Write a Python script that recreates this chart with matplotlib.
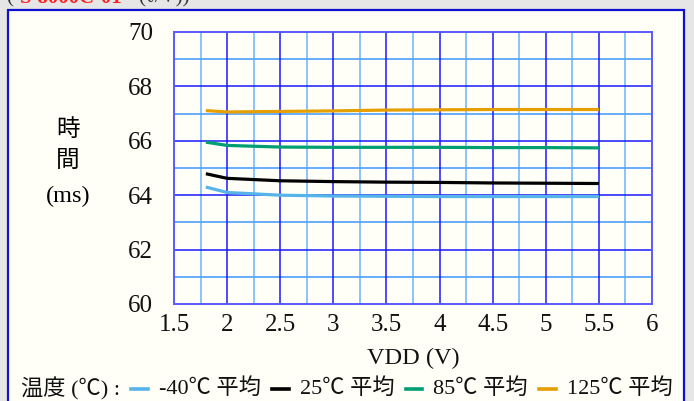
import numpy as np
import matplotlib
matplotlib.use('Agg')
import matplotlib.pyplot as plt
from matplotlib.offsetbox import TextArea, HPacker, AnchoredOffsetbox, DrawingArea
from matplotlib.lines import Line2D
from matplotlib.patches import Rectangle

# data
vdd = [1.8, 2.0, 2.5, 3.0, 3.5, 4.0, 4.5, 5.0, 5.5]
t_m40 = [64.30, 64.10, 64.00, 63.97, 63.96, 63.95, 63.95, 63.95, 63.95]
t_25 = [64.79, 64.62, 64.53, 64.50, 64.48, 64.47, 64.45, 64.44, 64.43]
t_85 = [65.95, 65.83, 65.77, 65.76, 65.76, 65.76, 65.75, 65.75, 65.74]
t_125 = [67.11, 67.06, 67.08, 67.10, 67.13, 67.14, 67.15, 67.15, 67.15]

series = [('-40℃ 平均', t_m40, '#56b4e9'),
          ('25℃ 平均', t_25, '#000000'),
          ('85℃ 平均', t_85, '#009e73'),
          ('125℃ 平均', t_125, '#e69f00')]

xticks = [1.5, 2, 2.5, 3, 3.5, 4, 4.5, 5, 5.5, 6]
yticks = [60, 62, 64, 66, 68, 70]

fam = ['Liberation Serif', 'Noto Sans CJK JP', 'DejaVu Serif']
plt.rcParams['font.family'] = fam

W, H = 694, 401
fig = plt.figure(figsize=(W / 100, H / 100), dpi=100, facecolor='#e6e6e6')

# white panel with blue border
fig.patches.append(Rectangle((8 / W, -0.05), 676 / W, 1 - 9.5 / H + 0.05,
                             transform=fig.transFigure, facecolor='#fffff8',
                             edgecolor='#1010d0', lw=1.6, zorder=-1))

# cut-off caption at top (partly outside the picture, as in the source)
fig.text(6 / W, 1 + 2 / H, '(', color='#333333', fontsize=15, va='center', family=fam)
fig.text(20 / W, 1 + 2 / H, 'S-8000C-01', color='#ff2020', fontsize=15,
         va='center', family=fam, weight='bold')
fig.text(138 / W, 1 + 2 / H, '(ℓ/V))', color='#333333', fontsize=15, va='center', family=fam)

ax = fig.add_axes([174 / W, 1 - 304 / H, 478 / W, 272 / H], zorder=2)
ax.set_facecolor('#fffff8')

# grid
for x in np.arange(1.75, 6.0, 0.5):
    ax.axvline(x, color='#80bfff', lw=1.3, zorder=1)
for x in np.arange(2.0, 6.0, 0.5):
    ax.axvline(x, color='#1a1aff', lw=1.1, zorder=1.1)
for y in range(61, 70, 2):
    ax.axhline(y, color='#5aa6ff', lw=1.3, zorder=1)
for y in range(62, 70, 2):
    ax.axhline(y, color='#1a1aff', lw=1.1, zorder=1.1)

for name, vals, c in series:
    ax.plot(vdd, vals, color=c, lw=2.3, zorder=3, solid_capstyle='butt')

ax.set_xlim(1.5, 6)
ax.set_ylim(60, 70)
ax.set_xticks(xticks)
ax.set_xticklabels([('%g' % v) for v in xticks])
ax.set_yticks(yticks)
ax.tick_params(length=0, labelsize=18, colors='#111111')
ax.tick_params(axis='x', pad=7)
ax.tick_params(axis='y', pad=15)
for s in ax.spines.values():
    s.set_color('#5a5aff')
    s.set_linewidth(1.4)

ax.set_xlabel('VDD (V)', fontsize=17.5, labelpad=9, color='#111111')
fig.text(68 / W, 1 - 130 / H, '時', fontsize=17, ha='center', va='center')
fig.text(68 / W, 1 - 161 / H, '間', fontsize=17, ha='center', va='center')
fig.text(68 / W, 1 - 196 / H, '(ms)', fontsize=17.5, ha='center', va='center')

# legend row
tp = dict(fontsize=16, family=fam, color='#111111')
items = [TextArea('温度 (℃) :', textprops=tp)]
for name, vals, c in series:
    da = DrawingArea(14, 10, 0, 0)
    da.add_artist(Line2D([1, 13], [5, 5], color=c, lw=2.6))
    items.append(da)
    items.append(TextArea(name, textprops=tp))
pack = HPacker(children=items, align='center', pad=0, sep=7)
box = AnchoredOffsetbox(loc='center left', child=pack, frameon=False,
                        bbox_to_anchor=(21 / W, 1 - 389 / H),
                        bbox_transform=fig.transFigure, borderpad=0, pad=0)
fig.add_artist(box)

fig.savefig('out.png', dpi=100, facecolor=fig.get_facecolor())
